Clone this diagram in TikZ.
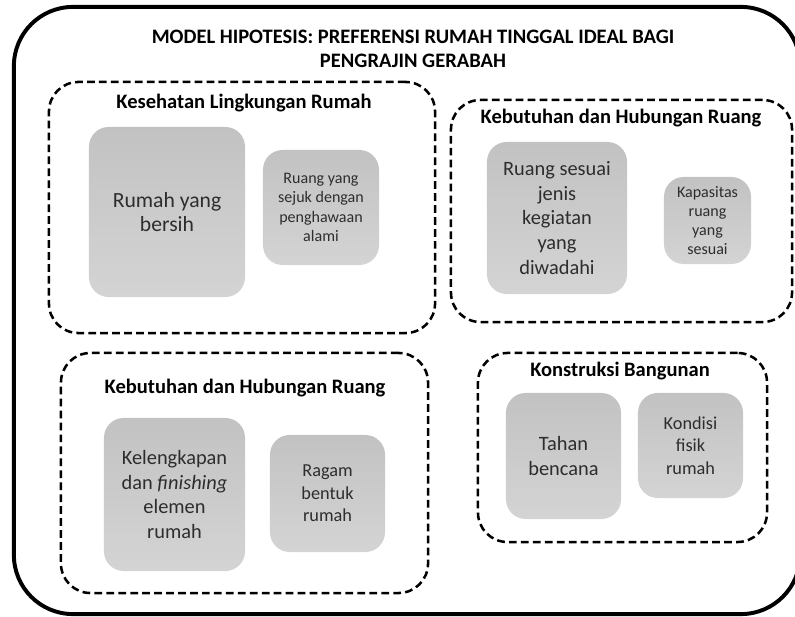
\documentclass[tikz,border=0pt]{standalone}
\usepackage{fontspec}
\setmainfont{Carlito}
\usepackage{xcolor}
\definecolor{itemtop}{RGB}{194,194,194}
\definecolor{itembot}{RGB}{212,212,212}
\definecolor{itemtext}{RGB}{45,45,45}

\begin{document}
\begin{tikzpicture}[
    x=0.025cm, y=-0.025cm,
    frame/.style={draw, line width=2.8pt, rounded corners=42pt, inner sep=0pt},
    groupbox/.style={draw, line width=1.8pt, dash pattern=on 5.5pt off 3pt, rounded corners=21pt, inner sep=0pt},
    grouptitle/.style={font=\fontsize{14.6}{17}\selectfont\bfseries},
    itembox/.style={rounded corners=14pt, top color=itemtop, bottom color=itembot, draw=none, align=center, text=itemtext, inner sep=0pt},
    bigtext/.style={font=\fontsize{14.5}{17.6}\selectfont},
    midtext/.style={font=\fontsize{13}{16}\selectfont},
    smalltext/.style={font=\fontsize{11.4}{13.7}\selectfont}
]
\useasboundingbox (0,0) rectangle (795,617);

% outer frame and main title
\node[frame, minimum width=19.65cm, minimum height=15.175cm] (frame) at (407,310.5) {};
\node[align=center, font=\fontsize{14.6}{16.8}\selectfont\bfseries] (title) at (413,49)
    {MODEL HIPOTESIS: PREFERENSI RUMAH TINGGAL IDEAL BAGI\\PENGRAJIN GERABAH};

% group: Kesehatan Lingkungan Rumah
\node[groupbox, minimum width=9.65cm, minimum height=6.275cm] (kesehatan) at (242,207.5) {};
\node[grouptitle] (kesehatanT) at (244,103) {Kesehatan Lingkungan Rumah};
\node[itembox, font=\fontsize{15.4}{17.6}\selectfont, minimum width=3.9cm, minimum height=4.25cm] (bersih) at (167,212) {Rumah yang\\bersih};
\node[itembox, smalltext, minimum width=2.9cm, minimum height=2.875cm] (sejuk) at (321,207.5) {Ruang yang\\sejuk dengan\\penghawaan\\alami};

% group: Kebutuhan dan Hubungan Ruang (kanan atas)
\node[groupbox, minimum width=8.525cm, minimum height=5.55cm] (kebutuhanA) at (621.5,211) {};
\node[grouptitle] (kebutuhanAT) at (621,118) {Kebutuhan dan Hubungan Ruang};
\node[itembox, bigtext, minimum width=3.5cm, minimum height=3.8cm] (kegiatan) at (557,218) {Ruang sesuai\\jenis\\kegiatan\\yang\\diwadahi};
\node[itembox, smalltext, minimum width=2.175cm, minimum height=2.175cm] (kapasitas) at (707.5,220.5) {Kapasitas\\ruang\\yang\\sesuai};

% group: Kebutuhan dan Hubungan Ruang (kiri bawah)
\node[groupbox, minimum width=9.175cm, minimum height=6cm] (kebutuhanB) at (244.5,473) {};
\node[grouptitle] (kebutuhanBT) at (245,388) {Kebutuhan dan Hubungan Ruang};
\node[itembox, bigtext, minimum width=3.525cm, minimum height=3.825cm] (elemen) at (174.5,494.5) {Kelengkapan\\dan \textit{finishing}\\elemen\\rumah};
\node[itembox, midtext, minimum width=2.875cm, minimum height=2.925cm] (ragam) at (327.5,493.5) {Ragam\\bentuk\\rumah};

% group: Konstruksi Bangunan
\node[groupbox, minimum width=7.225cm, minimum height=4.725cm] (konstruksi) at (622.5,447.5) {};
\node[grouptitle] (konstruksiT) at (620,371) {Konstruksi Bangunan};
\node[itembox, bigtext, minimum width=2.875cm, minimum height=3.15cm] (bencana) at (563.5,456) {Tahan\\bencana};
\node[itembox, midtext, minimum width=2.625cm, minimum height=2.625cm] (kondisi) at (690.5,445.5) {Kondisi\\fisik\\rumah};
\end{tikzpicture}
\end{document}
